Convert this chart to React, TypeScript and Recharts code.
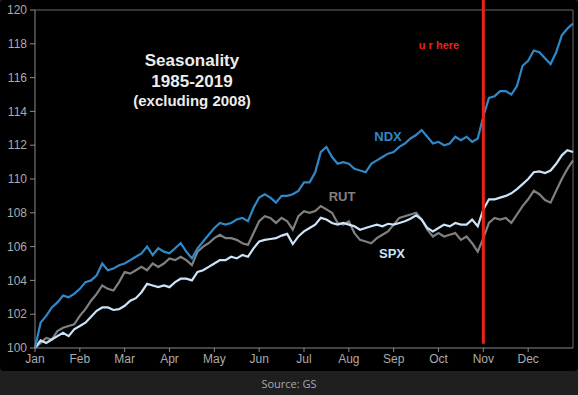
import React from "react"
import { LineChart, Line, XAxis, YAxis, ReferenceLine } from "recharts"

// months on the x axis, sampled 8 times per month
const months = ["Jan", "Feb", "Mar", "Apr", "May", "Jun", "Jul", "Aug", "Sep", "Oct", "Nov", "Dec"]
const yTicks = [100, 102, 104, 106, 108, 110, 112, 114, 116, 118, 120]

const ndx = [
  100.0, 101.5, 101.9, 102.4, 102.7, 103.1, 103.0, 103.2,
  103.5, 103.9, 104.0, 104.3, 105.0, 104.6, 104.7, 104.9,
  105.0, 105.2, 105.4, 105.6, 106.0, 105.5, 105.9, 105.7,
  105.6, 105.9, 106.2, 105.7, 105.3, 105.9, 106.3, 106.7,
  107.1, 107.4, 107.3, 107.4, 107.6, 107.7, 107.5, 108.3,
  108.9, 109.1, 108.9, 108.6, 109.0, 109.0, 109.1, 109.3,
  109.8, 109.8, 110.4, 111.6, 111.9, 111.3, 110.9, 111.0,
  110.9, 110.6, 110.5, 110.4, 110.9, 111.1, 111.3, 111.5,
  111.6, 111.9, 112.1, 112.4, 112.6, 112.9, 112.5, 112.1,
  112.2, 112.0, 112.1, 112.5, 112.3, 112.5, 112.2, 112.4,
  113.7, 114.8, 114.9, 115.2, 115.2, 115.0, 115.5, 116.7,
  117.0, 117.6, 117.5, 117.15, 116.8, 117.5, 118.5, 118.9,
  119.2,
]

const rut = [
  100.0, 100.3, 100.6, 100.5, 101.0, 101.2, 101.3, 101.4,
  101.9, 102.3, 102.8, 103.2, 103.7, 103.5, 103.4, 103.9,
  104.5, 104.4, 104.6, 104.8, 104.6, 105.0, 104.8, 105.0,
  105.3, 105.2, 105.4, 105.2, 104.9, 105.7, 106.0, 106.2,
  106.5, 106.7, 106.5, 106.5, 106.4, 106.2, 106.1, 106.8,
  107.5, 107.8, 107.7, 107.4, 107.7, 107.5, 107.0, 107.8,
  108.1, 108.0, 108.1, 108.4, 108.2, 108.0, 107.4, 107.3,
  107.5, 106.8, 106.4, 106.3, 106.2, 106.5, 106.7, 106.9,
  107.3, 107.7, 107.8, 107.9, 108.0, 107.6, 107.0, 106.6,
  106.8, 106.6, 106.7, 106.8, 106.4, 106.6, 106.2, 105.7,
  106.5, 107.4, 107.7, 107.6, 107.7, 107.4, 107.9, 108.4,
  108.8, 109.3, 109.1, 108.75, 108.6, 109.3, 110.0, 110.6,
  111.1,
]

const spx = [
  100.0, 100.45, 100.3, 100.5, 100.7, 100.9, 100.7, 101.1,
  101.3, 101.5, 101.85, 102.2, 102.4, 102.4, 102.25, 102.3,
  102.5, 102.8, 102.95, 103.3, 103.8, 103.7, 103.6, 103.7,
  103.6, 103.9, 104.1, 104.1, 104.0, 104.5, 104.6, 104.8,
  105.0, 105.2, 105.2, 105.4, 105.3, 105.5, 105.4, 105.9,
  106.3, 106.4, 106.45, 106.5, 106.65, 106.75, 106.15, 106.6,
  106.9, 107.1, 107.3, 107.7, 107.6, 107.4, 107.3, 107.4,
  107.3, 107.2, 107.0, 107.1, 107.2, 107.3, 107.2, 107.35,
  107.3, 107.4, 107.5, 107.65, 107.85, 107.6, 107.1, 106.9,
  107.1, 107.3, 107.2, 107.4, 107.3, 107.3, 107.6, 107.2,
  108.2, 108.8, 108.8, 108.9, 109.0, 109.15, 109.4, 109.7,
  110.0, 110.4, 110.45, 110.35, 110.5, 110.9, 111.4, 111.7,
  111.6,
]

const data = ndx.map((v, i) => ({ m: i / 8, ndx: v, rut: rut[i], spx: spx[i] }))

const font = "'Liberation Sans', Arial, sans-serif"
const axisTick = { fill: "#ababab", fontSize: 12, fontFamily: font }

const label = (text: string, x: number, y: number, color: string, size: number) => (
  <div
    style={{
      position: "absolute",
      left: x,
      top: y,
      transform: "translate(-50%, -50%)",
      color,
      fontSize: size,
      fontWeight: "bold",
      fontFamily: font,
      whiteSpace: "nowrap",
      lineHeight: 1,
    }}
  >
    {text}
  </div>
)

export default function App() {
  return (
    <div style={{ position: "fixed", left: 0, top: 0, width: 578, height: 395, background: "#1f1f1f" }}>
      <div style={{ position: "absolute", left: 0, top: 0, width: 578, height: 371, background: "#000", borderRadius: 4 }}>
        <LineChart width={578} height={371} data={data} margin={{ top: 10, right: 5, bottom: 0, left: 0 }}>
          <XAxis
            type="number"
            dataKey="m"
            domain={[0, 12]}
            ticks={[0, 1, 2, 3, 4, 5, 6, 7, 8, 9, 10, 11]}
            tickFormatter={(v: number) => months[v]}
            tick={axisTick}
            stroke="#8a8a8a"
            tickSize={4}
            tickMargin={2}
            height={23}
          />
          <YAxis
            domain={[100, 120]}
            ticks={yTicks}
            tick={axisTick}
            stroke="#8a8a8a"
            tickSize={5}
            tickMargin={3}
            width={35}
            interval={0}
          />
          <ReferenceLine y={120} stroke="#6a6a6a" />
          <ReferenceLine x={12} stroke="#6a6a6a" />
          <Line dataKey="rut" stroke="#808080" strokeWidth={2.2} dot={false} isAnimationActive={false} />
          <Line dataKey="spx" stroke="#cbe4fa" strokeWidth={2.2} dot={false} isAnimationActive={false} />
          <Line dataKey="ndx" stroke="#2f88c8" strokeWidth={2.2} dot={false} isAnimationActive={false} />
          <ReferenceLine
            segment={[{ x: 10, y: 120.6 }, { x: 10, y: 100.25 }]}
            stroke="#e8231c"
            strokeWidth={3}
            ifOverflow="visible"
          />
        </LineChart>
        {label("Seasonality", 192, 60, "#ececec", 17)}
        {label("1985-2019", 192, 81, "#ececec", 17)}
        {label("(excluding 2008)", 192, 100, "#ececec", 15)}
        {label("NDX", 388, 136, "#2f88c8", 13)}
        {label("RUT", 342, 196, "#808080", 13)}
        {label("SPX", 392, 253, "#cbe4fa", 13)}
        {label("u r here", 439, 45, "#e8231c", 11)}
      </div>
      <div
        style={{
          position: "absolute",
          left: 0,
          top: 383,
          width: 578,
          textAlign: "center",
          transform: "translateY(-50%)",
          color: "#a8a8a8",
          fontSize: 11,
          fontFamily: "'Open Sans', sans-serif",
          lineHeight: 1,
        }}
      >
        Source: GS
      </div>
    </div>
  )
}
